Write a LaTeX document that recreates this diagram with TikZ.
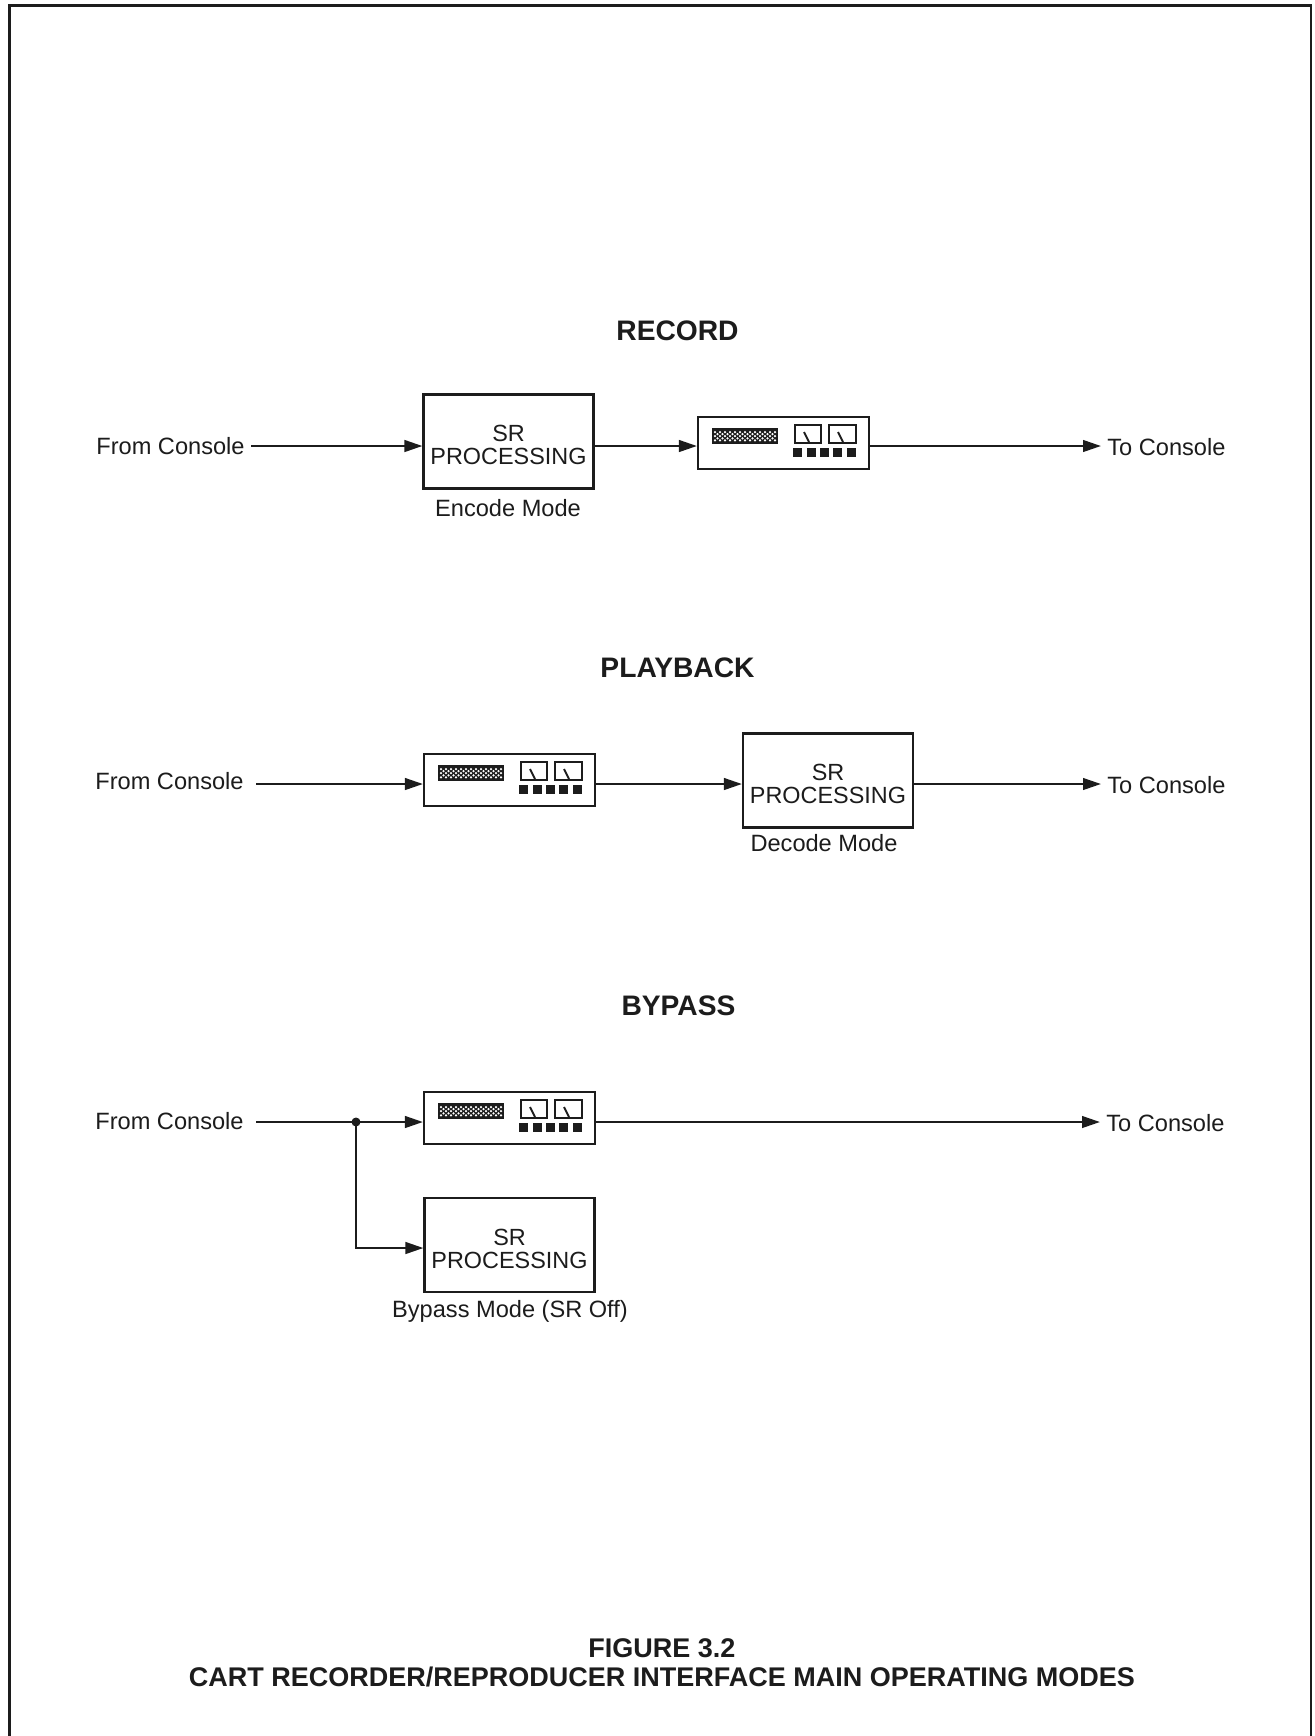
\documentclass[tikz,border=0pt]{standalone}
\usepackage{fontspec}
\setmainfont{Liberation Sans}
\usetikzlibrary{arrows.meta}
\definecolor{ink}{HTML}{1C1C1C}
\newcommand{\srlabel}{\rule{0pt}{12pt}SR\\PROCESSING}
\newcommand{\recorder}[3]{%
  \node[devbox] (#1) at (#2+85.5,#3+26) {};
  \begin{scope}[shift={(#2,#3)}]
    \fill[ink] (14,11) rectangle (80,27);
    \foreach \r in {0,1,2} \foreach \c in {0,...,12}
      \fill[white] (17+\c*5,15+\r*4.2) circle (1.25);
    \foreach \r in {0,1} \foreach \c in {0,...,11}
      \fill[white] (19.5+\c*5,17.1+\r*4.2) circle (1.25);
    \draw[line width=1pt,ink] (97,8) rectangle (123,26);
    \draw[line width=1pt,ink] (131,8) rectangle (158,26);
    \draw[line width=1pt,ink] (106,15) -- (111,25);
    \draw[line width=1pt,ink] (140,15) -- (145,25);
    \foreach \bx in {95,109,122,135,149}
      \fill[ink] (\bx,31) rectangle ++(9,9);
  \end{scope}}
\tikzset{
  x=0.5pt,y=-0.5pt,
  conn/.style={line width=1.2pt,draw=ink},
  flow/.style={conn,-{Triangle[length=9pt,width=5.8pt]}},
  boxline/.style={draw=ink,line width=1.05pt},
  srbox/.style={boxline,minimum width=85pt,minimum height=47pt,inner sep=0pt,align=center,text=ink,font=\fontsize{11.7}{11.5}\selectfont},
  devbox/.style={boxline,minimum width=85.5pt,minimum height=26pt,inner sep=0pt},
  lab/.style={text=ink,font=\fontsize{11.8}{13}\selectfont,inner ysep=1pt,inner xsep=3pt},
  headline/.style={text=ink,font=\fontsize{14.1}{16}\selectfont\bfseries,inner sep=1pt},
  figcaption/.style={text=ink,font=\fontsize{13.5}{16}\selectfont\bfseries,inner sep=1pt,align=center},
}
\begin{document}
\begin{tikzpicture}
\useasboundingbox (0,0) rectangle (1314,1736);
\fill[white] (0,0) rectangle (1314,1736);
% page frame
\coordinate (fa) at (9.5,1736);
\coordinate (fb) at (9.5,5.5);
\coordinate (fc) at (1311,5.5);
\coordinate (fd) at (1311,1736);
\draw[line width=1.2pt,ink] (fa) -- (fb) -- (fc) -- (fd);
% titles
\node[headline] (t1) at (677.5,331) {RECORD};
\node[headline] (t2) at (677.5,667.5) {PLAYBACK};
\node[headline] (t3) at (678.5,1005.5) {BYPASS};
% RECORD
\coordinate (l1) at (0,446);
\node[lab,anchor=east] (from1) at (251,446) {From Console};
\node[srbox] (sr1) at (508.5,441.5) {\srlabel};
\node[lab] (m1) at (508,508) {Encode Mode};
\recorder{dev1}{698}{417}
\node[lab,anchor=west] (to1) at (1101,447) {To Console};
\draw[flow] (from1.east |- l1) -- (sr1.west |- l1);
\draw[flow] (sr1.east |- l1) -- (dev1.west |- l1);
\draw[flow] (dev1.east |- l1) -- (to1.west |- l1);
% PLAYBACK
\coordinate (l2) at (0,784);
\node[lab,anchor=east] (from2) at (250,781.5) {From Console};
\recorder{dev2}{424}{754}
\node[srbox] (sr2) at (828,780.5) {\srlabel};
\node[lab] (m2) at (824,843.5) {Decode Mode};
\node[lab,anchor=west] (to2) at (1101,785) {To Console};
\draw[flow] (from2.east |- l2) ++(6,0) -- (dev2.west |- l2);
\draw[flow] (dev2.east |- l2) -- (sr2.west |- l2);
\draw[flow] (sr2.east |- l2) -- (to2.west |- l2);
% BYPASS
\coordinate (l3) at (0,1122);
\node[lab,anchor=east] (from3) at (250,1121) {From Console};
\recorder{dev3}{424}{1092}
\node[srbox] (sr3) at (509.5,1245) {\srlabel};
\node[lab] (m3) at (510,1311.5) {Bypass Mode (SR Off)};
\node[lab,anchor=west] (to3) at (1100,1123) {To Console};
\coordinate (j) at (356,1122);
\coordinate (l4) at (0,1248);
\fill[ink] (j) circle (4.5);
\draw[conn] (from3.east |- l3) ++(6,0) -- (j);
\draw[flow] (j) -- (dev3.west |- l3);
\draw[flow] (j) |- (sr3.west |- l4);
\draw[flow] (dev3.east |- l3) -- (to3.west |- l3);
% caption
\node[figcaption] (c1) at (662,1648) {FIGURE 3.2};
\node[figcaption] (c2) at (662,1677) {CART RECORDER/REPRODUCER INTERFACE MAIN OPERATING MODES};
\end{tikzpicture}
\end{document}
